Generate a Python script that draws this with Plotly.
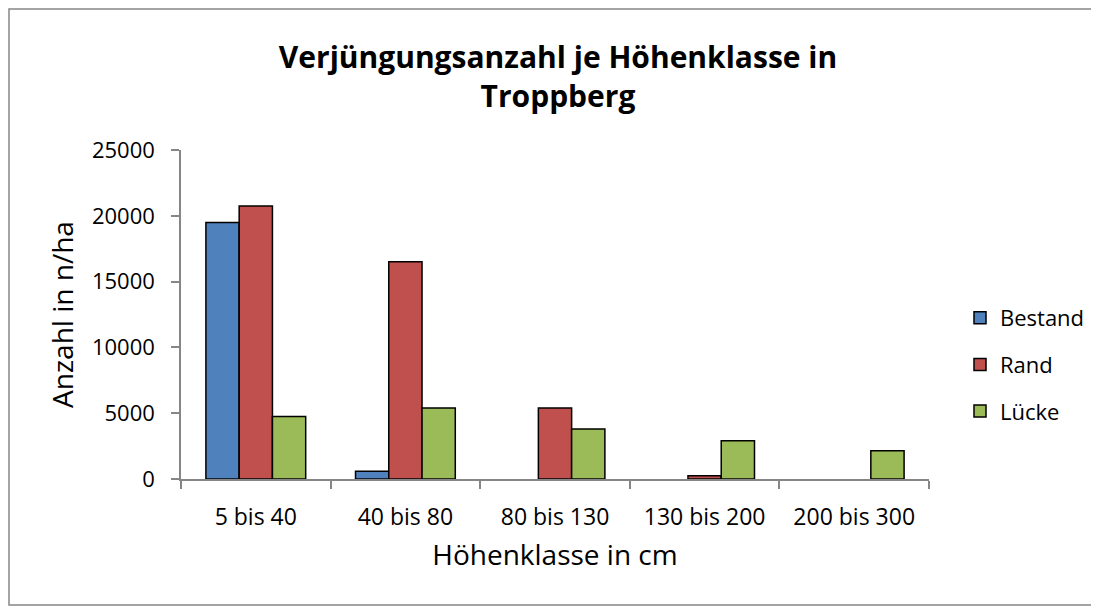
import plotly.graph_objects as go

categories = ["5 bis 40", "40 bis 80", "80 bis 130", "130 bis 200", "200 bis 300"]
bestand = [19500, 580, 0, 0, 0]
rand = [20750, 16500, 5400, 250, 0]
luecke = [4750, 5400, 3800, 2900, 2150]

series = [("Bestand", bestand, "#4F81BD"), ("Rand", rand, "#C0504D"), ("Lücke", luecke, "#9BBB59")]

# page body has an 8px margin; figure coordinates = page coordinates - 8
OFF = 8
W, H = 1099 - OFF, 608 - OFF
L, R, T, B = 181 - OFF, 929 - OFF, 150 - OFF, 479 - OFF

fig = go.Figure()
for name, vals, col in series:
    yv = [v if v != 0 else None for v in vals]
    fig.add_trace(go.Bar(x=categories, y=yv, name=name, legendgroup=name,
                         marker=dict(color=col, line=dict(color="black", width=1.5))))

FONT = "Open Sans, Calibri, sans-serif"
axis_col = "#868686"


def px2paper_x(px):
    return (px - OFF - L) / (R - L)


def px2paper_y(py):
    return (B - (py - OFF)) / (B - T)


fig.update_layout(
    width=W, height=H,
    margin=dict(l=L, r=W - R, t=T, b=H - B, autoexpand=False),
    paper_bgcolor="white", plot_bgcolor="white",
    barmode="group", bargap=0.333, bargroupgap=0,
    font=dict(family=FONT, size=22, color="black"),
    title=dict(text="<b>Verjüngungsanzahl je Höhenklasse in<br>Troppberg</b>",
               x=(558 - OFF) / W, xanchor="center", y=1 - (68 - OFF) / H, yanchor="middle",
               font=dict(family=FONT, size=30, color="black")),
    legend=dict(x=px2paper_x(960), xanchor="left", y=px2paper_y(297), yanchor="top",
                xref="paper", yref="paper", traceorder="grouped",
                font=dict(family=FONT, size=22), tracegroupgap=15, itemwidth=30,
                bgcolor="rgba(0,0,0,0)"),
    xaxis=dict(showline=True, linecolor=axis_col, linewidth=1.5, ticks="outside", tickson="boundaries",
               ticklen=8, tickcolor=axis_col, tickwidth=1.5, showgrid=False, ticklabelstandoff=17,
               title=dict(text="Höhenklasse in cm", font=dict(family=FONT, size=28), standoff=14),
               tickfont=dict(family=FONT, size=23)),
    yaxis=dict(range=[0, 25000], dtick=5000, tickformat="d", showline=True, linecolor=axis_col, linewidth=1.5,
               ticks="outside", ticklen=8, tickcolor=axis_col, tickwidth=1.5, showgrid=False, zeroline=False,
               ticklabelstandoff=12,
               title=dict(text="Anzahl in n/ha", font=dict(family=FONT, size=28), standoff=10),
               tickfont=dict(family=FONT, size=22)),
    shapes=[dict(type="rect", xref="paper", yref="paper",
                 x0=px2paper_x(9), x1=px2paper_x(1095), y0=px2paper_y(605), y1=px2paper_y(9),
                 line=dict(color=axis_col, width=1.5), fillcolor="rgba(0,0,0,0)", layer="below")],
)

fig.write_html("out.html")
